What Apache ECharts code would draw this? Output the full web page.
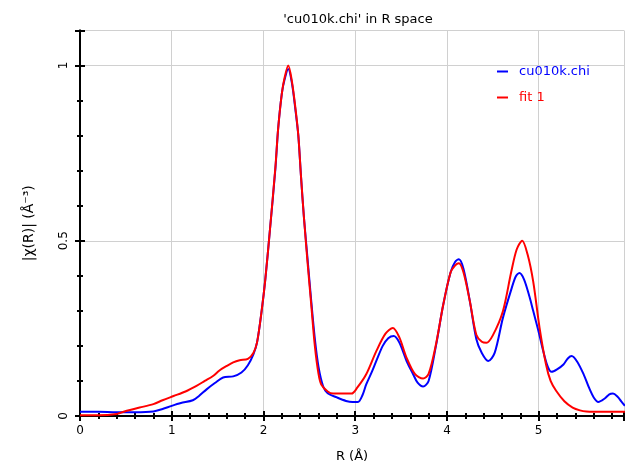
<!DOCTYPE html>
<html>
<head>
<meta charset="utf-8">
<script src="https://cdn.jsdelivr.net/npm/echarts@6/dist/echarts.min.js"></script>
<style>html,body{margin:0;padding:0;background:#fff;}#c{width:625px;height:468px;}</style>
</head>
<body>
<div id="c"></div>
<script>
// Data
const rData = [0.0,0.2,0.4,0.6,0.8,0.9,1.0,1.1,1.23,1.3,1.38,1.47,1.56,1.67,1.76,1.83,1.89,1.93,1.98,2.02,2.07,2.13,2.16,2.20,2.23,2.27,2.31,2.35,2.38,2.41,2.44,2.48,2.52,2.56,2.60,2.65,2.70,2.80,2.90,2.97,3.03,3.08,3.12,3.18,3.23,3.30,3.36,3.42,3.48,3.56,3.63,3.68,3.74,3.80,3.88,3.96,4.04,4.09,4.13,4.18,4.25,4.32,4.38,4.45,4.52,4.61,4.70,4.75,4.79,4.84,4.90,4.94,5.00,5.05,5.10,5.14,5.20,5.27,5.32,5.36,5.42,5.49,5.55,5.60,5.65,5.72,5.77,5.81,5.86,5.90,5.94];
const chiData = [0.012,0.012,0.011,0.011,0.013,0.02,0.029,0.037,0.045,0.058,0.076,0.094,0.11,0.113,0.124,0.145,0.176,0.21,0.30,0.39,0.53,0.706,0.82,0.92,0.96,0.99,0.95,0.87,0.80,0.68,0.57,0.45,0.33,0.22,0.14,0.085,0.065,0.053,0.043,0.040,0.040,0.06,0.09,0.125,0.157,0.20,0.222,0.228,0.21,0.157,0.12,0.095,0.084,0.10,0.20,0.318,0.41,0.44,0.447,0.42,0.327,0.22,0.18,0.157,0.18,0.28,0.36,0.398,0.408,0.39,0.34,0.30,0.24,0.185,0.14,0.126,0.133,0.147,0.165,0.171,0.155,0.119,0.08,0.053,0.040,0.05,0.062,0.064,0.055,0.042,0.029];

const rFit = [0.0,0.2,0.4,0.51,0.65,0.8,0.9,1.02,1.15,1.27,1.36,1.45,1.52,1.6,1.67,1.74,1.83,1.89,1.93,1.98,2.02,2.07,2.13,2.16,2.20,2.23,2.27,2.31,2.35,2.38,2.41,2.44,2.48,2.52,2.56,2.60,2.63,2.70,2.76,2.85,2.96,3.02,3.12,3.23,3.33,3.41,3.48,3.56,3.65,3.74,3.80,3.88,3.96,4.04,4.09,4.13,4.18,4.25,4.32,4.38,4.43,4.50,4.61,4.70,4.76,4.82,4.88,4.94,5.01,5.08,5.13,5.19,5.28,5.37,5.45,5.52,5.70,5.94];
const chiFit = [0.002,0.002,0.006,0.015,0.024,0.034,0.045,0.057,0.07,0.086,0.10,0.114,0.13,0.143,0.153,0.159,0.163,0.18,0.21,0.30,0.39,0.53,0.71,0.82,0.92,0.965,1.0,0.955,0.875,0.80,0.68,0.57,0.44,0.32,0.20,0.12,0.09,0.07,0.064,0.064,0.064,0.08,0.119,0.185,0.235,0.251,0.225,0.166,0.12,0.107,0.12,0.204,0.318,0.41,0.43,0.436,0.41,0.327,0.232,0.212,0.209,0.23,0.299,0.41,0.475,0.50,0.46,0.384,0.251,0.147,0.10,0.072,0.042,0.024,0.016,0.013,0.012,0.012];

const xTicks = [0,1,2,3,4,5];
const yTicks = [0,0.5,1];
const seriesNames = ['cu010k.chi','fit 1'];

const XMIN = 0, XMAX = 5.93, YMIN = 0, YMAX = 1.1;
const FONT = 'DejaVu Sans';

function zip(a,b){return a.map((v,i)=>[v,b[i]]);}

const chart = echarts.init(document.getElementById('c'), null, {renderer:'canvas'});
const baseAxisLine = {show:true, lineStyle:{color:'#000', width:2}};
const tick = {show:true, inside:true, length:5, lineStyle:{color:'#000', width:2}};
const minor = {show:true, splitNumber:5, length:3, lineStyle:{color:'#000', width:2}};
const option = {
  animation:false,
  backgroundColor:'#fff',
  title:{text:"'cu010k.chi' in R space", left:353, top:8, textAlign:'center',
    textStyle:{fontFamily:FONT, fontSize:13, fontWeight:'normal', color:'#000'}},
  legend:{orient:'vertical', left:492, top:60, itemWidth:11, itemHeight:2, itemGap:13, icon:'rect',
    textStyle:{fontFamily:FONT, fontSize:13, padding:[0,0,0,6]},
    data:[{name:seriesNames[0], textStyle:{color:'#0000ff'}},{name:seriesNames[1], textStyle:{color:'#ff0000'}}]},
  grid:{left:80, top:30.5, right:1, bottom:49.5, containLabel:false},
  xAxis:[{
    type:'value', min:XMIN, max:XMAX, interval:1, position:'bottom',
    name:'R (Å)', nameLocation:'middle', nameGap:34,
    nameTextStyle:{fontFamily:FONT, fontSize:13, color:'#000'},
    axisLine:baseAxisLine, axisTick:tick, minorTick:minor,
    axisLabel:{fontFamily:FONT, fontSize:12, color:'#000', margin:9, showMaxLabel:false,
      formatter:v=> xTicks.includes(Math.round(v*1000)/1000) ? String(v) : ''},
    splitLine:{show:true, lineStyle:{color:'#d0d0d0', width:1}}
  },{
    type:'value', min:XMIN, max:XMAX, interval:1, position:'top',
    axisLine:baseAxisLine, axisTick:tick, minorTick:minor,
    axisLabel:{show:false}, splitLine:{show:false}
  }],
  yAxis:[{
    type:'value', min:YMIN, max:YMAX, interval:0.5, position:'left',
    name:'|χ(R)| (Å⁻³)', nameLocation:'middle', nameGap:44, nameRotate:90,
    nameTextStyle:{fontFamily:FONT, fontSize:14, color:'#000'},
    axisLine:baseAxisLine, axisTick:tick, minorTick:minor,
    axisLabel:{fontFamily:FONT, fontSize:12, color:'#000', rotate:90, margin:10, showMaxLabel:false,
      formatter:v=> yTicks.includes(Math.round(v*1000)/1000) ? String(v) : ''},
    splitLine:{show:true, lineStyle:{color:'#d0d0d0', width:1}}
  },{
    type:'value', min:YMIN, max:YMAX, interval:0.5, position:'right',
    axisLine:baseAxisLine, axisTick:tick, minorTick:minor,
    axisLabel:{show:false}, splitLine:{show:false}
  }],
  series:[
    {name:seriesNames[0], type:'line', data:zip(rData, chiData), smooth:0.3, showSymbol:false,
      lineStyle:{color:'#0000ff', width:2}, itemStyle:{color:'#0000ff'}, z:3},
    {name:seriesNames[1], type:'line', data:zip(rFit, chiFit), smooth:0.3, showSymbol:false,
      lineStyle:{color:'#ff0000', width:2}, itemStyle:{color:'#ff0000'}, z:4}
  ]
};
chart.setOption(option);
</script>
</body>
</html>
